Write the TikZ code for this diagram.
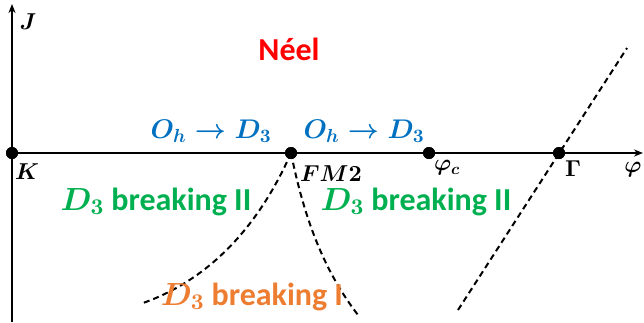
\documentclass[tikz,border=0pt]{standalone}
\usepackage{amsmath}
\usepackage{fontspec}
\setmainfont{Carlito}
\DeclareFontShape{OML}{cmm}{m}{it}{<->cmmi10}{}
\DeclareFontShape{OML}{cmm}{b}{it}{<->cmmib10}{}
\DeclareFontShape{OMS}{cmsy}{m}{n}{<->cmsy10}{}
\DeclareFontShape{OMS}{cmsy}{b}{n}{<->cmbsy10}{}
\DeclareFontShape{OT1}{cmr}{m}{n}{<->cmr10}{}
\DeclareFontShape{OT1}{cmr}{bx}{n}{<->cmbx10}{}
\usetikzlibrary{arrows.meta}
\definecolor{neelred}{RGB}{255,0,0}
\definecolor{ohblue}{RGB}{0,112,192}
\definecolor{brgreen}{RGB}{0,176,80}
\definecolor{brorange}{RGB}{237,125,49}
\newcommand{\grpD}{\ensuremath{D_3}}
\newcommand{\ohto}{\ensuremath{O_h\rightarrow D_3}}
\tikzset{
  axis/.style={line width=2.2pt,-{Stealth[length=9pt,width=7pt]}},
  pt/.style={circle,fill=black,inner sep=0pt,minimum size=12pt},
  phaseb/.style={line width=2pt,dash pattern=on 6pt off 4pt},
  bigtxt/.style={font=\fontsize{32}{36}\selectfont\bfseries\boldmath,inner sep=0pt,anchor=base},
  bluetxt/.style={font=\fontsize{27}{31}\selectfont\bfseries\boldmath,inner sep=0pt,anchor=base,text=ohblue},
  lbl/.style={font=\fontsize{23}{27}\selectfont\boldmath,inner sep=0pt}
}
\begin{document}
\begin{tikzpicture}[x=1pt,y=-1pt]
\useasboundingbox (0,0) rectangle (644,322);
\coordinate (yb) at (12,322);
\coordinate (yt) at (12,4);
\coordinate (xr) at (643,153);
\node[pt] (K) at (12,153) {};
\node[pt] (FM) at (291,153) {};
\node[pt] (pc) at (429,153) {};
\node[pt] (G) at (559,153) {};
\draw[axis] (yb) -- (yt);
\draw[axis] (K.center) -- (xr);
\coordinate (l1) at (143,303);
\coordinate (r1) at (358,315);
\coordinate (g1) at (627,48);
\coordinate (g2) at (458,310);
\draw[phaseb] (FM.center) .. controls (258,228) and (208,280) .. (l1);
\draw[phaseb] (FM.center) .. controls (305,222) and (325,272) .. (r1);
\draw[phaseb] (g2) -- (g1);
\fill (K) circle (6pt);
\fill (FM) circle (6pt);
\fill (pc) circle (6pt);
\fill (G) circle (6pt);
\node[lbl] (lJ) at (28,22) {$J$};
\node[lbl] (lK) at (27,172) {$K$};
\node[lbl] (lFM) at (331,174) {$FM2$};
\node[lbl] (lpc) at (447,168) {$\varphi_c$};
\node[lbl] (lG) at (573,169) {$\mathbf{\Gamma}$};
\node[lbl] (lp) at (633,170) {$\varphi$};
\node[bigtxt,text=neelred] (neel) at (289,60) {Néel};
\node[bluetxt] (oa) at (211,138) {\ohto};
\node[bluetxt] (ob) at (364,138) {\ohto};
\node[bigtxt,text=brgreen] (ba) at (156,210) {\grpD{} breaking II};
\node[bigtxt,text=brgreen] (bb) at (416,210) {\grpD{} breaking II};
\node[bigtxt,text=brorange] (bc) at (252,305) {\grpD{} breaking I};
\end{tikzpicture}
\end{document}
